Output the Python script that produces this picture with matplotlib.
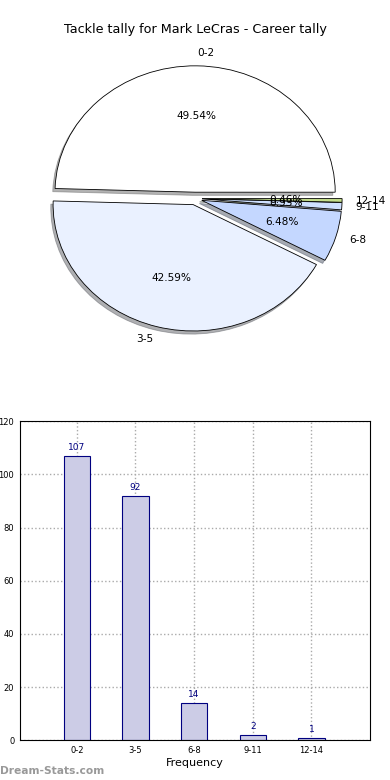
import numpy as np
import matplotlib
matplotlib.use("Agg")
import matplotlib.pyplot as plt

categories = ['0-2', '3-5', '6-8', '9-11', '12-14']
counts = [107, 92, 14, 2, 1]
pie_colors = ['#ffffff', '#eaf1ff', '#c4d7ff', '#cfe0ff', '#c5df8c']
title = 'Tackle tally for Mark LeCras - Career tally'

fig = plt.figure(figsize=(3.9, 7.8), dpi=100)

# pie, stretched a bit wider than tall like the original
ax1 = fig.add_axes([0.051, 0.543, 0.898, 0.405])
wedges, texts, autotexts = ax1.pie(counts, labels=categories, colors=pie_colors,
                                   explode=[0.05] * len(counts),
                                   shadow={'ox': -0.012, 'oy': -0.018, 'shade': 0.6},
                                   autopct='%.2f%%', startangle=0, labeldistance=1.1,
                                   wedgeprops={'edgecolor': 'black', 'linewidth': 0.6},
                                   textprops={'fontsize': 7.6})
ax1.set_aspect('auto')
ax1.set_xlim(-1.25, 1.25)
ax1.set_ylim(-1.25, 1.25)
fig.text(0.5, 0.962, title, ha='center', va='center', fontsize=9.2)

# bar chart
ax2 = fig.add_axes([0.051, 0.051, 0.898, 0.409])
x = np.arange(len(categories))
ax2.bar(x, counts, width=0.45, color='#ccccE6', edgecolor='#000080', linewidth=0.8)
for xi, c in zip(x, counts):
    ax2.text(xi, c + 1.5, str(c), ha='center', va='bottom', fontsize=6.5, color='#000080')
ax2.set_xlim(-0.97, 5.0)
ax2.set_ylim(0, 120)
ax2.set_xticks(x)
ax2.set_xticklabels(categories)
ax2.set_yticks(range(0, 121, 20))
ax2.tick_params(labelsize=6, length=0, pad=4)
ax2.grid(True, linestyle=':', color='#aaaaaa', linewidth=1)
ax2.set_axisbelow(True)
ax2.set_xlabel('Frequency', fontsize=8, labelpad=2)

fig.text(0.0, 0.012, 'Dream-Stats.com', fontsize=7.7, color='#999999', ha='left', va='center',
         fontweight='bold')

fig.savefig('out.png', dpi=100)
